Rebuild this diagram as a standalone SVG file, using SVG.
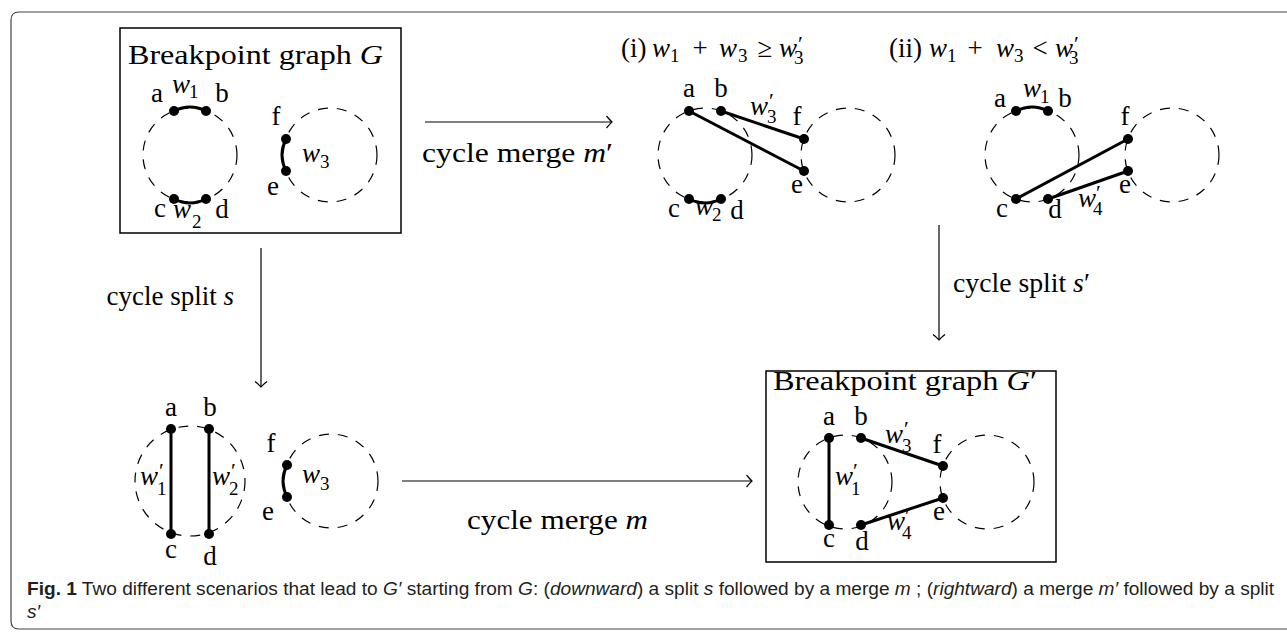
<svg xmlns="http://www.w3.org/2000/svg" width="1287" height="632" viewBox="0 0 1287 632">
<defs>
<style>
.t{font-family:"Liberation Serif",serif;font-size:27px;fill:#000}
.c{text-anchor:middle}
.mi{font-style:italic}
.sub{font-family:"Liberation Serif",serif;font-size:19px;fill:#000}
.pr{font-family:"Liberation Serif",serif;font-size:22px;fill:#000}
.edge{stroke:#000;stroke-width:3;fill:none}
.cyc{stroke:#000;stroke-width:1.2;fill:none;stroke-dasharray:10 9}
.box{fill:none;stroke:#000;stroke-width:1.5}
.arr{stroke:#000;stroke-width:1.2;fill:none;marker-end:url(#to)}
.dot{fill:#000}
.cap{font-family:"Liberation Sans",sans-serif;font-size:19.1px;fill:#231f20}
</style>
<marker id="to" viewBox="-8 -8 10 16" markerWidth="10" markerHeight="16" refX="0" refY="0" orient="auto" markerUnits="userSpaceOnUse">
<path d="M-5.5,-6 Q-1.5,-1.2 0,0 Q-1.5,1.2 -5.5,6" fill="none" stroke="#000" stroke-width="1.2"/>
</marker>
</defs>
<rect width="1287" height="632" fill="#fff"/>
<path d="M1300,12 H19 Q11,12 11,20 V621 Q11,629 19,629 H1300" fill="none" stroke="#444" stroke-width="1.2"/>

<g id="node-G">
<rect class="box" x="120" y="28" width="281" height="205"/>
<text class="t" x="128" y="64" textLength="255" lengthAdjust="spacingAndGlyphs">Breakpoint graph <tspan class="mi">G</tspan></text>
<circle class="cyc" cx="190" cy="155" r="47"/>
<circle class="cyc" cx="330" cy="155" r="47"/>
<path class="edge" d="M174,111 Q190,103 206,111"/>
<path class="edge" d="M174,199 Q190,207 206,199"/>
<path class="edge" d="M286,139 Q278,155 286,171"/>
<circle class="dot" cx="174" cy="111" r="5"/><circle class="dot" cx="206" cy="111" r="5"/>
<circle class="dot" cx="174" cy="199" r="5"/><circle class="dot" cx="206" cy="199" r="5"/>
<circle class="dot" cx="286" cy="139" r="5"/><circle class="dot" cx="286" cy="171" r="5"/>
<text class="t c" x="157" y="102">a</text><text class="t c" x="222" y="102">b</text>
<text class="t c" x="160" y="217">c</text><text class="t c" x="222" y="218">d</text>
<text class="t c" x="276" y="125">f</text><text class="t c" x="273" y="195">e</text>
<text class="t mi" x="172" y="93">w</text><text class="sub" x="189" y="98">1</text>
<text class="t mi" x="173" y="218">w</text><text class="sub" x="192" y="228">2</text>
<text class="t mi" x="302" y="162">w</text><text class="sub" x="320" y="168">3</text>
</g>

<g id="node-i">
<text class="t" x="621" y="57">(i)</text>
<text class="t mi" x="652" y="57">w</text><text class="sub" x="670" y="62">1</text>
<text class="t c" x="700" y="57">+</text>
<text class="t mi" x="719" y="57">w</text><text class="sub" x="738" y="62">3</text>
<text class="t c" x="765" y="57">≥</text>
<text class="t mi" x="779" y="57">w</text><text class="pr" x="798" y="51">′</text><text class="sub" x="794" y="64">3</text>
<circle class="cyc" cx="705" cy="155" r="47"/>
<circle class="cyc" cx="848" cy="155" r="47"/>
<line class="edge" x1="689" y1="111" x2="804" y2="171"/>
<line class="edge" x1="721" y1="111" x2="804" y2="139"/>
<path class="edge" d="M689,199 Q705,207 721,199"/>
<circle class="dot" cx="689" cy="111" r="5"/><circle class="dot" cx="721" cy="111" r="5"/>
<circle class="dot" cx="689" cy="199" r="5"/><circle class="dot" cx="721" cy="199" r="5"/>
<circle class="dot" cx="804" cy="139" r="5"/><circle class="dot" cx="804" cy="171" r="5"/>
<text class="t c" x="689" y="97">a</text><text class="t c" x="721" y="97">b</text>
<text class="t c" x="674" y="217">c</text><text class="t c" x="737" y="219">d</text>
<text class="t c" x="797" y="125">f</text><text class="t c" x="797" y="193">e</text>
<text class="t mi" x="750" y="115">w</text><text class="pr" x="769" y="108">′</text><text class="sub" x="767" y="123">3</text>
<text class="t mi" x="695" y="215">w</text><text class="sub" x="712" y="221">2</text>
</g>

<g id="node-ii">
<text class="t" x="889" y="57">(ii)</text>
<text class="t mi" x="929" y="57">w</text><text class="sub" x="947" y="62">1</text>
<text class="t c" x="975" y="57">+</text>
<text class="t mi" x="996" y="57">w</text><text class="sub" x="1014" y="62">3</text>
<text class="t c" x="1040" y="57">&lt;</text>
<text class="t mi" x="1055" y="57">w</text><text class="pr" x="1074" y="51">′</text><text class="sub" x="1069" y="64">3</text>
<circle class="cyc" cx="1032" cy="155" r="47"/>
<circle class="cyc" cx="1172" cy="155" r="47"/>
<path class="edge" d="M1016,111 Q1032,103 1048,111"/>
<line class="edge" x1="1016" y1="199" x2="1128" y2="139"/>
<line class="edge" x1="1048" y1="199" x2="1128" y2="171"/>
<circle class="dot" cx="1016" cy="111" r="5"/><circle class="dot" cx="1048" cy="111" r="5"/>
<circle class="dot" cx="1016" cy="199" r="5"/><circle class="dot" cx="1048" cy="199" r="5"/>
<circle class="dot" cx="1128" cy="139" r="5"/><circle class="dot" cx="1128" cy="171" r="5"/>
<text class="t c" x="1000" y="107">a</text><text class="t c" x="1065" y="107">b</text>
<text class="t c" x="1002" y="217">c</text><text class="t c" x="1055" y="218">d</text>
<text class="t c" x="1125" y="125">f</text><text class="t c" x="1125" y="193">e</text>
<text class="t mi" x="1023" y="97">w</text><text class="sub" x="1040" y="103">1</text>
<text class="t mi" x="1078" y="207">w</text><text class="pr" x="1096" y="200">′</text><text class="sub" x="1093" y="215">4</text>
</g>

<g id="node-split">
<circle class="cyc" cx="190" cy="481" r="55"/>
<circle class="cyc" cx="331" cy="481" r="47"/>
<line class="edge" x1="171" y1="429" x2="171" y2="534"/>
<line class="edge" x1="209" y1="429" x2="209" y2="534"/>
<path class="edge" d="M287,465 Q279,481 287,497"/>
<circle class="dot" cx="171" cy="429" r="5"/><circle class="dot" cx="209" cy="429" r="5"/>
<circle class="dot" cx="171" cy="534" r="5"/><circle class="dot" cx="209" cy="534" r="5"/>
<circle class="dot" cx="287" cy="465" r="5"/><circle class="dot" cx="287" cy="497" r="5"/>
<text class="t c" x="171" y="416">a</text><text class="t c" x="210" y="416">b</text>
<text class="t c" x="171" y="558">c</text><text class="t c" x="210" y="565">d</text>
<text class="t c" x="271" y="452">f</text><text class="t c" x="268" y="520">e</text>
<text class="t mi" x="140" y="485">w</text><text class="pr" x="159" y="478">′</text><text class="sub" x="157" y="495">1</text>
<text class="t mi" x="212" y="485">w</text><text class="pr" x="231" y="478">′</text><text class="sub" x="229" y="495">2</text>
<text class="t mi" x="302" y="483">w</text><text class="sub" x="320" y="490">3</text>
</g>

<g id="node-Gp">
<rect class="box" x="766" y="371" width="290" height="191"/>
<text class="t" x="773" y="390" textLength="264" lengthAdjust="spacingAndGlyphs">Breakpoint graph <tspan class="mi">G</tspan>′</text>
<circle class="cyc" cx="845" cy="482" r="47"/>
<circle class="cyc" cx="987" cy="482" r="47"/>
<line class="edge" x1="829" y1="438" x2="829" y2="525"/>
<line class="edge" x1="861" y1="438" x2="943" y2="466"/>
<line class="edge" x1="861" y1="525" x2="943" y2="498"/>
<circle class="dot" cx="829" cy="438" r="5"/><circle class="dot" cx="861" cy="438" r="5"/>
<circle class="dot" cx="829" cy="525" r="5"/><circle class="dot" cx="861" cy="525" r="5"/>
<circle class="dot" cx="943" cy="466" r="5"/><circle class="dot" cx="943" cy="498" r="5"/>
<text class="t c" x="829" y="425">a</text><text class="t c" x="861" y="425">b</text>
<text class="t c" x="829" y="547">c</text><text class="t c" x="862" y="550">d</text>
<text class="t c" x="937" y="453">f</text><text class="t c" x="939" y="520">e</text>
<text class="t mi" x="885" y="443">w</text><text class="pr" x="904" y="436">′</text><text class="sub" x="902" y="452">3</text>
<text class="t mi" x="835" y="485">w</text><text class="pr" x="853" y="478">′</text><text class="sub" x="851" y="495">1</text>
<text class="t mi" x="887" y="530">w</text><text class="pr" x="905" y="523">′</text><text class="sub" x="902" y="539">4</text>
</g>

<g id="connectors">
<line class="arr" x1="425" y1="122" x2="612" y2="122"/>
<text class="t" x="422" y="162" textLength="191" lengthAdjust="spacingAndGlyphs">cycle merge <tspan class="mi">m</tspan>′</text>
<line class="arr" x1="261" y1="248" x2="261" y2="387"/>
<text class="t" x="234" y="305" text-anchor="end">cycle split <tspan class="mi">s</tspan></text>
<line class="arr" x1="939" y1="225" x2="939" y2="340"/>
<text class="t" x="953" y="292" textLength="137" lengthAdjust="spacingAndGlyphs">cycle split <tspan class="mi">s</tspan>′</text>
<line class="arr" x1="402" y1="481" x2="752" y2="481"/>
<text class="t" x="467" y="529" textLength="181" lengthAdjust="spacingAndGlyphs">cycle merge <tspan class="mi">m</tspan></text>
</g>

<g id="caption">
<text class="cap" x="27" y="595"><tspan font-weight="bold">Fig. 1</tspan>  Two different scenarios that lead to <tspan font-style="italic">G′</tspan> starting from <tspan font-style="italic">G</tspan>: (<tspan font-style="italic">downward</tspan>) a split <tspan font-style="italic">s</tspan> followed by a merge <tspan font-style="italic">m</tspan> ; (<tspan font-style="italic">rightward</tspan>) a merge <tspan font-style="italic">m′</tspan> followed by a split</text>
<text class="cap" x="27" y="618" font-style="italic">s′</text>
</g>
</svg>
